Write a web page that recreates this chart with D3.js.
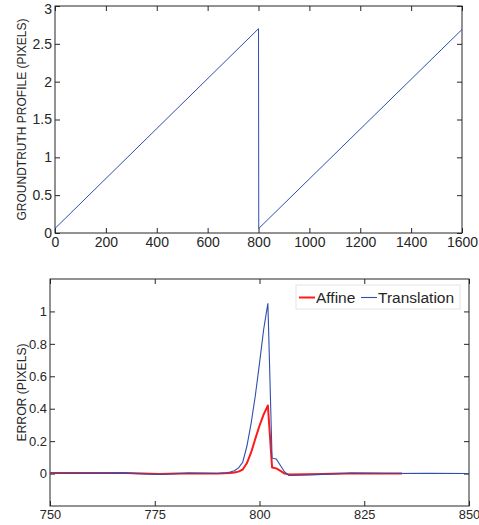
<!DOCTYPE html>
<html><head><meta charset="utf-8">
<script src="https://cdn.jsdelivr.net/npm/d3@7"></script>
<style>
html,body{margin:0;padding:0;background:#fff;}
svg{display:block;font-family:"Liberation Sans",Arial,Helvetica,sans-serif;}
</style></head>
<body>
<svg id="c" width="479" height="525"></svg>
<script>
// ---- Data ----
// Top panel: groundtruth profile (sawtooth)
const profileX = [0, 800, 801, 1600];
const profileY = [0.06, 2.70, 0.06, 2.69];
const topXTicks = [0, 200, 400, 600, 800, 1000, 1200, 1400, 1600];
const topYTicks = [0, 0.5, 1, 1.5, 2, 2.5, 3];

// Bottom panel: error around the discontinuity
const transX = [750, 760, 768, 776, 783, 790, 792, 793, 794, 795, 796, 797, 798, 799, 800, 801, 802, 803, 804, 805, 806, 807, 810, 815, 822, 830, 840, 850];
const transY = [0.002, 0.001, 0.003, -0.006, 0.002, 0.0, 0.005, 0.01, 0.018, 0.035, 0.07, 0.17, 0.31, 0.48, 0.68, 0.89, 1.05, 0.095, 0.09, 0.05, 0.01, -0.012, -0.01, -0.005, 0.002, 0.0, 0.001, 0.0];
const affineX = [750, 760, 768, 776, 783, 790, 793, 794, 795, 796, 797, 798, 799, 800, 801, 802, 803, 804, 805, 806, 807, 815, 822, 834];
const affineY = [0.004, 0.003, 0.004, -0.003, 0.002, 0.0, 0.003, 0.006, 0.012, 0.025, 0.065, 0.13, 0.215, 0.295, 0.365, 0.42, 0.038, 0.032, 0.017, 0.0, -0.005, -0.002, 0.002, 0.001];
const botXTicks = [750, 775, 800, 825, 850];
const botYTicks = [0, 0.2, 0.4, 0.6, 0.8, 1];
const legendLabels = ["Affine", "Translation"];

const BLUE = "#2f4fae", RED = "#ff1a1a", AX = "#262626";
const svg = d3.select("#c");

function panel(o) {
  const x = d3.scaleLinear().domain(o.xDomain).range([o.left, o.right]);
  const y = d3.scaleLinear().domain(o.yDomain).range([o.bottom, o.top]);
  const g = svg.append("g");
  const T = 5;
  g.append("rect").attr("x", o.left).attr("y", o.top)
    .attr("width", o.right - o.left).attr("height", o.bottom - o.top)
    .attr("fill", "none").attr("stroke", AX).attr("stroke-width", 1);
  const ax = (gen, tr, fs) => g.append("g").attr("transform", tr).call(gen)
    .call(s => s.select(".domain").remove())
    .call(s => s.selectAll("line").attr("stroke", AX))
    .call(s => s.selectAll("text").attr("fill", AX).style("font-size", fs + "px"));
  ax(d3.axisBottom(x).tickValues(o.xTicks).tickSizeInner(-T).tickPadding(4).tickFormat(d3.format("d")), `translate(0,${o.bottom})`, o.fs);
  ax(d3.axisTop(x).tickValues(o.xTicks).tickSizeInner(-T).tickFormat(""), `translate(0,${o.top})`, o.fs);
  const yl = ax(d3.axisLeft(y).tickValues(o.yTicks).tickSizeInner(-T).tickPadding(3).tickFormat(d3.format("")), `translate(${o.left},0)`, o.yfs);
  // keep the topmost label inside the picture
  yl.selectAll(".tick text").filter(d => y(d) - o.yfs * 0.75 < 0).attr("dy", "0.5em");
  ax(d3.axisRight(y).tickValues(o.yTicks).tickSizeInner(-T).tickFormat(""), `translate(${o.right},0)`, o.fs);
  g.append("text").attr("transform", `translate(${o.ylabX},${(o.top + o.bottom) / 2}) rotate(-90)`)
    .attr("text-anchor", "middle").attr("fill", AX).style("font-size", o.lfs + "px").text(o.ylab);
  const clipId = "clip" + o.id;
  svg.append("clipPath").attr("id", clipId).append("rect")
    .attr("x", o.left).attr("y", o.top).attr("width", o.right - o.left).attr("height", o.bottom - o.top);
  const lines = svg.append("g").attr("clip-path", `url(#${clipId})`);
  return { x, y, lines };
}

// Top panel
const p1 = panel({ id: 1, xDomain: [0, 1600], yDomain: [0, 3], left: 55, right: 462, top: 6, bottom: 233,
  xTicks: topXTicks, yTicks: topYTicks, fs: 14, yfs: 14, lfs: 12, ylab: "GROUNDTRUTH PROFILE (PIXELS)", ylabX: 26 });
p1.lines.append("path")
  .attr("d", d3.line().x(i => p1.x(profileX[i])).y(i => p1.y(profileY[i]))(d3.range(profileX.length)))
  .attr("fill", "none").attr("stroke", BLUE).attr("stroke-width", 1);

// Bottom panel
const p2 = panel({ id: 2, xDomain: [750, 850], yDomain: [-0.2, 1.2], left: 50, right: 469, top: 279, bottom: 506,
  xTicks: botXTicks, yTicks: botYTicks, fs: 12.8, yfs: 13, lfs: 12.2, ylab: "ERROR (PIXELS)", ylabX: 26 });
p2.lines.append("path")
  .attr("d", d3.line().x(i => p2.x(affineX[i])).y(i => p2.y(affineY[i]))(d3.range(affineX.length)))
  .attr("fill", "none").attr("stroke", RED).attr("stroke-width", 2).attr("stroke-linejoin", "round");
p2.lines.append("path")
  .attr("d", d3.line().x(i => p2.x(transX[i])).y(i => p2.y(transY[i]))(d3.range(transX.length)))
  .attr("fill", "none").attr("stroke", BLUE).attr("stroke-width", 1.1);

// Legend
const lg = svg.append("g");
lg.append("rect").attr("x", 296).attr("y", 285).attr("width", 164).attr("height", 24)
  .attr("fill", "#fff").attr("stroke", "#e4e4e4").attr("stroke-width", 1);
const legendColors = [RED, BLUE], legendW = [2, 1.1], lx = [299, 361];
legendLabels.forEach((t, i) => {
  lg.append("line").attr("x1", lx[i]).attr("x2", lx[i] + 16).attr("y1", 297.5).attr("y2", 297.5)
    .attr("stroke", legendColors[i]).attr("stroke-width", legendW[i]);
  lg.append("text").attr("x", lx[i] + 17).attr("y", 303).attr("fill", AX)
    .style("font-size", "15.5px").text(t);
});
</script>
</body></html>
